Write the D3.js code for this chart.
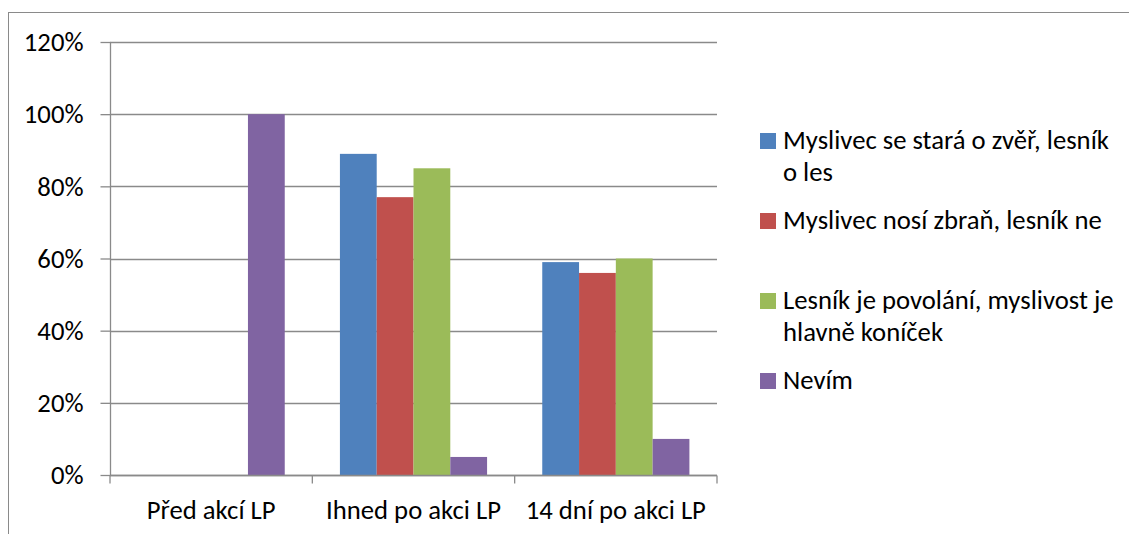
<!DOCTYPE html>
<html>
<head>
<meta charset="utf-8">
<script src="https://cdn.jsdelivr.net/npm/d3@7"></script>
<style>
  html, body { margin: 0; padding: 0; background: #fff; }
  svg { display: block; }
</style>
</head>
<body>
<svg id="chart" width="1129" height="534"></svg>
<script>
// ---- data ----
const categories = ["Před akcí LP", "Ihned po akci LP", "14 dní po akci LP"];
const seriesNames = [
  "Myslivec se stará o zvěř, lesník o les",
  "Myslivec nosí zbraň, lesník ne",
  "Lesník je povolání, myslivost je hlavně koníček",
  "Nevím"
];
const legendLines = [
  ["Myslivec se stará o zvěř, lesník", "o les"],
  ["Myslivec nosí zbraň, lesník ne"],
  ["Lesník je povolání, myslivost je", "hlavně koníček"],
  ["Nevím"]
];
const seriesColors = ["#4F81BD", "#C0504D", "#9BBB59", "#8064A2"];
const valuesMyslivecZver = [0, 89, 59];
const valuesZbran = [0, 77, 56];
const valuesPovolani = [0, 85, 60];
const valuesNevim = [100, 5, 10];
const seriesValues = [valuesMyslivecZver, valuesZbran, valuesPovolani, valuesNevim];
const yTicks = [0, 20, 40, 60, 80, 100, 120];

// ---- layout ----
const svg = d3.select("#chart");
const fontFamily = "Carlito, Lato, 'Open Sans', sans-serif";

// fit the font size to the reference text width
const probe = svg.append("text").attr("font-family", fontFamily).attr("font-size", 100).text("Ihned po akci LP");
const probeW = probe.node().getComputedTextLength();
probe.remove();
const fs = Math.min(27, 100 * 175 / probeW);

const plot = { left: 110, right: 717, top: 42, bottom: 475 };
const gridColor = "#8a8a8a";

// outer frame (clipped by window on right/bottom)
svg.append("rect")
  .attr("x", 8.5).attr("y", 12.5)
  .attr("width", 1300).attr("height", 700)
  .attr("fill", "none").attr("stroke", gridColor).attr("stroke-width", 1);

const x0 = d3.scaleBand().domain(categories).range([plot.left, plot.right]).paddingInner(0).paddingOuter(0);
const x1 = d3.scaleBand().domain(d3.range(seriesNames.length))
  .range([0, x0.bandwidth()]).paddingInner(0).paddingOuter(0.75);
const y = d3.scaleLinear().domain([0, 120]).range([plot.bottom, plot.top]);

// gridlines
svg.append("g").selectAll("line").data(yTicks).join("line")
  .attr("x1", plot.left).attr("x2", plot.right)
  .attr("y1", d => Math.round(y(d)) + 0.5).attr("y2", d => Math.round(y(d)) + 0.5)
  .attr("stroke", gridColor).attr("stroke-width", 1.3);

// bars
const groups = svg.append("g").selectAll("g").data(categories).join("g")
  .attr("transform", c => `translate(${x0(c)},0)`);
groups.selectAll("rect")
  .data((c, ci) => seriesValues.map((vals, si) => ({ si, v: vals[ci] })))
  .join("rect")
  .attr("x", d => x1(d.si))
  .attr("width", x1.bandwidth())
  .attr("y", d => y(d.v))
  .attr("height", d => y(0) - y(d.v))
  .attr("fill", d => seriesColors[d.si]);

// y axis
const yAxis = svg.append("g")
  .attr("transform", `translate(${plot.left + 0.5},0)`)
  .call(d3.axisLeft(y).tickValues(yTicks).tickFormat(d => d + "%").tickSize(10).tickPadding(17));
yAxis.select(".domain").attr("stroke", gridColor).attr("stroke-width", 1.3).attr("d", `M0,${plot.top}V${plot.bottom}`);
yAxis.selectAll(".tick line").attr("stroke", gridColor).attr("stroke-width", 1.3);
yAxis.selectAll(".tick text").attr("font-family", fontFamily).attr("font-size", fs).attr("fill", "#000").attr("dy", "0.33em");

// x axis
const xAxis = svg.append("g").attr("transform", `translate(0,${Math.round(plot.bottom) + 0.5})`);
xAxis.append("line").attr("x1", plot.left).attr("x2", plot.right)
  .attr("stroke", gridColor).attr("stroke-width", 1.3);
const boundaries = categories.map(c => x0(c)).concat([x0(categories[categories.length - 1]) + x0.bandwidth()]);
xAxis.selectAll("line.tk").data(boundaries).join("line").attr("class", "tk")
  .attr("x1", d => d).attr("x2", d => d).attr("y1", 0).attr("y2", 8)
  .attr("stroke", gridColor).attr("stroke-width", 1.3);
xAxis.selectAll("text").data(categories).join("text")
  .attr("x", c => x0(c) + x0.bandwidth() / 2).attr("y", 43)
  .attr("text-anchor", "middle")
  .attr("font-family", fontFamily).attr("font-size", fs).attr("fill", "#000")
  .text(c => c);

// legend
const legend = svg.append("g").selectAll("g").data(seriesNames).join("g")
  .attr("transform", (d, i) => `translate(760,${133 + i * 80})`);
legend.append("rect").attr("width", 16).attr("height", 16).attr("fill", (d, i) => seriesColors[i]);
legend.each(function (d, i) {
  const g = d3.select(this);
  g.selectAll("text").data(legendLines[i]).join("text")
    .attr("x", 23).attr("y", (t, k) => 16 + k * 32)
    .attr("font-family", fontFamily).attr("font-size", fs).attr("fill", "#000")
    .text(t => t);
});
</script>
</body>
</html>
